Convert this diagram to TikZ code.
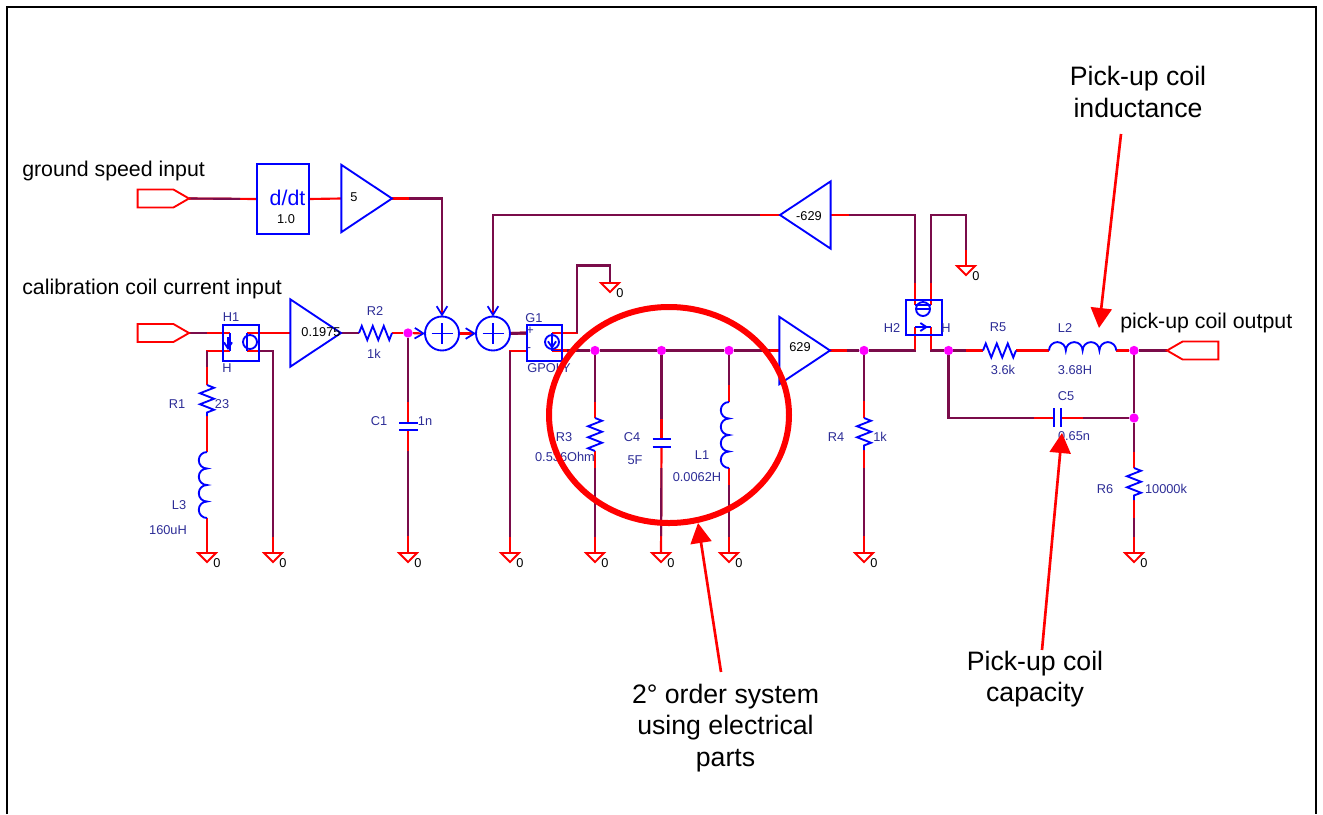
\documentclass[tikz,border=0pt]{standalone}
\usepackage{fontspec}
\setmainfont{Liberation Sans}
\usetikzlibrary{shapes.geometric, shapes.symbols, arrows.meta, decorations.pathmorphing, backgrounds}
\definecolor{netpurple}{HTML}{7A0C4A}
\definecolor{partname}{HTML}{2C2C96}
\definecolor{junction}{HTML}{FF00FF}
\tikzstyle{part} = [draw=blue, line width=1.4pt]
\tikzstyle{lead} = [draw=red, line width=1.6pt]
\tikzstyle{port} = [signal, draw=red, line width=1.4pt, outer sep=0pt, signal pointer angle=60, minimum width=38.5pt, minimum height=13.5pt, inner sep=0pt]
\tikzstyle{amp} = [isosceles triangle, isosceles triangle stretches, part, outer sep=0pt, inner sep=0pt, font=\fontsize{9.6}{10}\selectfont]
\tikzstyle{gnd} = [isosceles triangle, isosceles triangle stretches, shape border rotate=270, draw=red, line width=1.4pt, outer sep=0pt, minimum width=13.5pt, minimum height=6.8pt, inner sep=0pt, anchor=lower side]
\tikzstyle{sumnode} = [circle, part, outer sep=0pt, minimum size=25.5pt, inner sep=0pt, path picture={\draw [part] (-10.5,0) -- (10.5,0) (0,-10.5) -- (0,10.5);}]
\tikzstyle{box} = [rectangle, part, outer sep=0pt, inner sep=0pt]
\tikzstyle{src} = [circle, part, minimum size=10.5pt, inner sep=0pt]
\tikzstyle{dot} = [circle, fill=junction, minimum size=7pt, inner sep=0pt]
\tikzstyle{partlbl} = [inner sep=0pt, text=partname, font=\fontsize{9.6}{10}\selectfont]
\tikzstyle{num} = [inner sep=0pt, text=black, font=\fontsize{9.6}{10}\selectfont]
\tikzstyle{headtxt} = [inner sep=0pt, anchor=west, font=\fontsize{16}{18}\selectfont]
\tikzstyle{notetxt} = [inner sep=0pt, align=center, font=\fontsize{20}{23.5}\selectfont]
\tikzstyle{callout} = [draw=red, line width=2pt, -{Triangle[length=15pt, width=15.7pt, fill=red]}]
\tikzstyle{res} = [part, decorate, decoration={zigzag, segment length=8.25pt, amplitude=5.25pt}]
\tikzset{
  intosum/.style={-{Straight Barb[blue, length=6.5pt, width=8pt, line width=1.3pt]}},
  wire/.style 2 args={draw=red, line width=1.6pt,
    postaction={draw=netpurple, -, shorten <=#1*0.75pt, shorten >=#2*0.75pt}}
}

\begin{document}
\begin{tikzpicture}[x=0.75pt, y=-0.75pt]
\useasboundingbox (0,0) rectangle (1323,814);
\draw [black, line width=1.5pt] (7,814) -- (7,7) -- (1316,7) -- (1316,814);

% inputs and output
\node (title1) [headtxt] at (22,171) {ground speed input};
\node (title2) [headtxt] at (22,289) {calibration coil current input};
\node (title3) [headtxt] at (1120,323) {pick-up coil output};
\node (speedin) [port, signal to=east, anchor=east] at (189,198.5) {};
\node (calin) [port, signal to=east, anchor=east] at (189,333) {};
\node (coilout) [port, signal to=west, anchor=west] at (1167,350.5) {};

% blocks
\node (ddt) [box, minimum width=39pt, minimum height=52pt] at (283,199) {};
\node (ddttxt) [inner sep=0pt, text=blue, font=\fontsize{16}{18}\selectfont] at (287.5,198) {d/dt};
\node (ddtval) [num] at (286,219) {1.0};
\node (amp5) [amp, minimum width=50.5pt, minimum height=38pt, anchor=apex] at (392,198.5) {};
\node (amp5txt) [num] at (354,197) {5};
\node (amp02) [amp, minimum width=50.5pt, minimum height=38pt, anchor=apex] at (341,333) {};
\node (amp02txt) [num] at (321,332) {0.1975};
\node (amp629) [amp, minimum width=50.5pt, minimum height=38pt, anchor=apex] at (830,350.5) {};
\node (amp629txt) [num] at (800,347) {629};
\node (neg629) [amp, shape border rotate=180, minimum width=50.5pt, minimum height=38pt, anchor=apex] at (780,215) {};
\node (neg629txt) [num] at (809,216) {-629};
\node (sum1) [sumnode] at (442,333.5) {};
\node (sum2) [sumnode] at (493,333.5) {};
\node (h1) [box, minimum width=27pt, minimum height=27pt] at (241,343) {};
\node (g1) [box, minimum width=26.5pt, minimum height=26.5pt] at (544.5,343) {};
\node (h2) [box, minimum width=27pt, minimum height=26.5pt] at (924,317.5) {};

% grounds
\foreach \gname/\x/\y in {gnd1/207/553, gnd2/273/553, gnd3/408/553, gnd4/510/553, gnd5/595/553, gnd6/661/553, gnd7/729/553, gnd8/864/553, gnd9/1134/553, gnd10/610/283, gnd11/966/266} {
  \node (\gname) [gnd] at (\x,\y) {};
  \node (\gname txt) [num] at (\x+10,\y+10) {0};
}

% junctions
\node (dot1) [dot] at (408,333) {};
\node (dot2) [dot] at (595,350.5) {};
\node (dot3) [dot] at (661.5,350.5) {};
\node (dot4) [dot] at (729,350.5) {};
\node (dot5) [dot] at (864,350.5) {};
\node (dot6) [dot] at (948.5,350.5) {};
\node (dot7) [dot] at (1134,350.5) {};
\node (dot8) [dot] at (1134,418) {};

% pins
\coordinate (h1a) at (230,333);
\coordinate (h1b) at (230,351);
\coordinate (h1c) at (247,333);
\coordinate (h1d) at (247,351);
\coordinate (g1a) at (527,333);
\coordinate (g1b) at (527,351);
\coordinate (g1c) at (552,333);
\coordinate (g1d) at (552,350.5);
\coordinate (g1up) at (577,265.5);
\coordinate (h2a) at (915,305);
\coordinate (h2b) at (931,305);
\coordinate (h2c) at (915,327);
\coordinate (h2d) at (931,327);
\coordinate (h2up) at (931,215);
\coordinate (r1a) at (207,385);
\coordinate (r1b) at (207,416);
\coordinate (l3a) at (207,452);
\coordinate (l3b) at (207,518);
\coordinate (r2a) at (359,333);
\coordinate (r2b) at (392,333);
\coordinate (c1a) at (408,423);
\coordinate (c1b) at (408,430);
\coordinate (r3a) at (595,418);
\coordinate (r3b) at (595,451);
\coordinate (c4a) at (661.5,439);
\coordinate (c4b) at (661.5,447);
\coordinate (l1a) at (729,402);
\coordinate (l1b) at (729,468);
\coordinate (r4a) at (864,418);
\coordinate (r4b) at (864,450);
\coordinate (r5a) at (983,350.5);
\coordinate (r5b) at (1016,350.5);
\coordinate (l2a) at (1049,350.5);
\coordinate (l2b) at (1116,350.5);
\coordinate (c5a) at (1054,418);
\coordinate (c5b) at (1061,418);
\coordinate (r6a) at (1134,468);
\coordinate (r6b) at (1134,500);

% parts
\draw [res] (r1a) -- (r1b);
\draw [res] (r2a) -- (r2b);
\draw [res] (r3a) -- (r3b);
\draw [res] (r4a) -- (r4b);
\draw [res] (r5a) -- (r5b);
\draw [res] (r6a) -- (r6b);
\draw [part] (l3a) \foreach \k in {1,...,4} {arc [start angle=270, end angle=90, radius=8.25]};
\draw [part] (l1a) \foreach \k in {1,...,4} {arc [start angle=270, end angle=90, radius=8.25]};
\draw [part] (l2a) \foreach \k in {1,...,4} {arc [start angle=180, end angle=360, radius=8.4]};
\draw [part] (399,423) -- (418,423) (399,430) -- (418,430);
\draw [part] (652.5,439) -- (670.5,439) (652.5,447) -- (670.5,447);
\draw [part] (1054,408) -- (1054,427) (1061,408) -- (1061,427);

% controlled sources
\draw [part] (h1a) -- (h1b);
\draw [part, -{Straight Barb[length=4.5pt, width=6pt]}] (228,337) -- (228,350);
\draw [part, line width=2.2pt] (h1c) -- (h1d);
\node (s1) [src] at (250,342) {};
\draw [part] (g1c) -- (g1d);
\draw [part, -{Straight Barb[length=4.5pt, width=6pt]}] (552,338) -- (552,349);
\draw [part] (g1d) -- (562,350.5);
\node (s2) [src] at (552,342) {};
\draw [part] (h2a) -- (h2b);
\draw [part] (916,309) -- (930,309);
\node (s3) [src] at (923,309) {};
\draw [part] (h2c) -- (h2d);
\draw [part, -{Straight Barb[length=4.5pt, width=6pt]}] (916,327) -- (928,327);

% wires
\begin{scope}[on background layer]
\draw [wire={0}{17}] (speedin.east) -- (ddt.west);
\draw [lead] (ddt.east) -- (amp5.lower side);
\draw [wire={17}{7}, intosum] (amp5.apex) -| (sum1.north);
\draw [wire={0}{23}] (calin.east) -- (h1a);
\draw [lead] (h1c) -- (amp02.lower side);
\draw [wire={0}{0}, line width=2.2pt] (amp02.apex) -- (r2a);
\draw [lead] (r2b) -- (dot1);
\draw [lead, intosum] (dot1) -- (sum1.west);
\draw [wire={23}{18}] (h1b) -| (r1a);
\draw [lead] (r1b) -- (l3a);
\draw [lead] (l3b) -- (gnd1.lower side);
\draw [wire={12}{16}] (h1d) -| (gnd2.lower side);
\draw [wire={0}{21}] (dot1) -- (c1a);
\draw [wire={21}{17}] (c1b) -- (gnd3.lower side);
\draw [lead, intosum] (sum1.east) -- (sum2.west);
\draw [wire={0}{0}, line width=2.2pt] (sum2.east) -- (g1a);
\draw [wire={17}{16}] (g1b) -| (gnd4.lower side);
\draw [wire={25}{0}] (g1c) -| (g1up) -| (gnd10.lower side);
\draw [wire={15}{0}] (g1d) -- (dot2);
\draw [wire={0}{0}] (dot2) -- (dot3);
\draw [wire={0}{0}] (dot3) -- (dot4);
\draw [wire={0}{9}] (dot4) -- (amp629.lower side);
\draw [wire={0}{16}] (dot2) -- (r3a);
\draw [wire={17}{16}] (r3b) -- (gnd5.lower side);
\draw [wire={0}{20}] (dot3) -- (c4a);
\draw [wire={21}{17}] (c4b) -- (gnd6.lower side);
\draw [wire={0}{17}] (dot4) -- (l1a);
\draw [wire={17}{16}] (l1b) -- (gnd7.lower side);
\draw [wire={20}{7}, intosum] (neg629.apex) -| (sum2.north);
\draw [wire={18}{22}] (neg629.lower side) -| (h2a);
\draw [wire={22}{16}] (h2b) -- (h2up) -| (gnd11.lower side);
\draw [wire={17}{0}] (amp629.apex) -- (dot5);
\draw [wire={0}{17}] (dot5) -- (r4a);
\draw [wire={18}{17}] (r4b) -- (gnd8.lower side);
\draw [wire={0}{23}] (dot5) -| (h2c);
\draw [wire={23}{0}] (h2d) |- (dot6);
\draw [wire={0}{17}] (dot6) -- (r5a);
\draw [lead] (r5b) -- (l2a);
\draw [lead] (l2b) -- (dot7);
\draw [wire={0}{0}] (dot7) -- (coilout.west);
\draw [wire={0}{20}] (dot6) |- (c5a);
\draw [wire={22}{0}] (c5b) -- (dot8);
\draw [wire={0}{0}] (dot7) -- (dot8);
\draw [wire={0}{16}] (dot8) -- (r6a);
\draw [wire={18}{16}] (r6b) -- (gnd9.lower side);
\end{scope}

% part labels
\node (h1top) [partlbl] at (231,317) {H1};
\node (h1bot) [partlbl] at (227,368) {H};
\node (g1top) [partlbl] at (534,318) {G1};
\node (g1bot) [partlbl] at (549,368) {GPOLY};
\node (g1plus) [partlbl] at (530,331) {+};
\node (g1minus) [partlbl] at (529,350) {-};
\node (h2left) [partlbl] at (892,328) {H2};
\node (h2right) [partlbl] at (946,328) {H};
\node (r1name) [partlbl] at (177,404) {R1};
\node (r1val) [partlbl] at (222,404) {23};
\node (l3name) [partlbl] at (179,505) {L3};
\node (l3val) [partlbl] at (168,530) {160uH};
\node (r2name) [partlbl] at (375,311) {R2};
\node (r2val) [partlbl] at (374,354) {1k};
\node (c1name) [partlbl] at (379,421) {C1};
\node (c1val) [partlbl] at (425,421) {1n};
\node (r3name) [partlbl] at (564,437) {R3};
\node (r3val) [partlbl] at (565,457) {0.536Ohm};
\node (c4name) [partlbl] at (632,437) {C4};
\node (c4val) [partlbl] at (635,460) {5F};
\node (l1name) [partlbl] at (702,455) {L1};
\node (l1val) [partlbl] at (697,477) {0.0062H};
\node (r4name) [partlbl] at (836,437) {R4};
\node (r4val) [partlbl] at (880,437) {1k};
\node (r5name) [partlbl] at (998,327) {R5};
\node (r5val) [partlbl] at (1003,370) {3.6k};
\node (l2name) [partlbl] at (1065,328) {L2};
\node (l2val) [partlbl] at (1075,370) {3.68H};
\node (c5name) [partlbl] at (1066,396) {C5};
\node (c5val) [partlbl] at (1074,436) {0.65n};
\node (r6name) [partlbl] at (1105,489) {R6};
\node (r6val) [partlbl] at (1166,489) {10000k};

% notes
\draw [red, line width=4.5pt] (669,415) ellipse [x radius=120, y radius=108];
\node (sysnote) [notetxt] at (725.5,728) {2° order system\\using electrical\\parts};
\node (indnote) [notetxt] at (1138,92) {Pick-up coil\\inductance};
\node (capnote) [notetxt] at (1035,679) {Pick-up coil\\capacity};
\coordinate (systail) at (721,672);
\coordinate (systip) at (698,523);
\coordinate (indtail) at (1121,134);
\coordinate (indtip) at (1099,328);
\coordinate (captail) at (1042,650);
\coordinate (captip) at (1062,433);
\draw [callout] (systail) -- (systip);
\draw [callout] (indtail) -- (indtip);
\draw [callout] (captail) -- (captip);
\end{tikzpicture}
\end{document}
